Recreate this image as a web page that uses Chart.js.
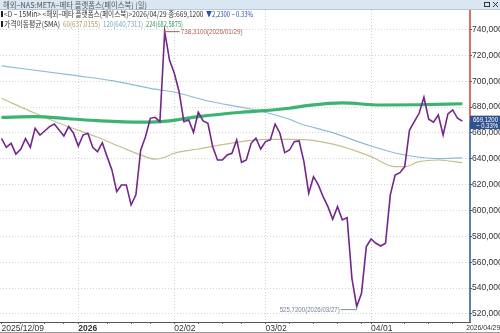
<!DOCTYPE html>
<html>
<head>
<meta charset="utf-8">
<script src="https://cdn.jsdelivr.net/npm/chart.js@4.4.1/dist/chart.umd.min.js"></script>
<style>
  html, body { margin: 0; padding: 0; background: #fff; overflow: hidden; }
  canvas { display: block; }
</style>
</head>
<body>
<canvas id="c" width="500" height="333"></canvas>
<script>
/* daily close, 2025/12/09 .. 2026/04/29 (97 trading days) */
const closes = [
  655.9, 648.9, 652.0, 643.7, 647.4, 655.6, 648.9, 663.6, 658.4, 661.5,
  664.9, 666.9, 662.3, 657.7, 664.9, 659.8, 649.9, 658.4, 659.8, 648.9,
  645.5, 652.5, 641.7, 631.4, 614.6, 619.8, 619.8, 604.3, 612.1, 646.8,
  657.1, 671.3, 672.1, 668.7, 738.31, 716.4, 706.1, 691.9, 668.7, 670.0,
  660.5, 676.0, 669.3, 667.5, 649.4, 639.1, 639.1, 643.0, 644.3, 654.6,
  637.3, 639.1, 652.0, 655.9, 647.6, 653.3, 654.6, 666.9, 659.8, 644.8,
  646.8, 653.3, 653.8, 637.8, 613.4, 626.2, 619.8, 610.7, 603.0, 593.3,
  603.0, 592.7, 594.5, 547.6, 525.72, 536.0, 572.1, 578.0, 574.7, 572.6,
  574.7, 612.1, 627.5, 629.3, 633.9, 662.3, 668.7, 675.2, 687.6, 670.6,
  668.3, 673.9, 658.4, 674.7, 677.8, 671.35, 669.12
];

/* moving averages (day index -> value) */
const ma60Idx  = [0, 7, 12, 20, 25, 29, 32, 34, 36, 41, 50, 55, 60, 64, 71, 77, 82, 84, 87, 91, 96];
const ma60Val  = [686.8, 675.2, 667.5, 656.7, 648.9, 643.0, 639.7, 641.2, 644.3, 647.6, 653.3,
                  655.1, 655.1, 654.6, 649.4, 641.7, 633.9, 633.9, 637.8, 639.1, 637.02];
const ma120Idx = [0, 16, 23, 31, 37, 43, 52, 60, 62, 69, 77, 83, 91, 96];
const ma120Val = [711.8, 704.1, 700.4, 694.5, 690.7, 684.7, 678.5, 670.6, 667.5, 660.2, 649.9,
                  643.7, 640.2, 640.73];
const ma224Idx = [0, 7, 14, 20, 29, 33, 37, 41, 50, 54, 60, 64, 71, 79, 87, 96];
const ma224Val = [672.1, 672.6, 671.0, 669.5, 668.3, 668.7, 670.4, 672.6, 676.0, 677.0, 679.1,
                  681.3, 683.2, 681.6, 681.8, 682.59];

/* x axis labels (day index) and minor weekly ticks */
const tickIdx    = [0, 16, 36, 55, 77, 96.8];
const tickLabels = ['2025/12/09', '2026', '02/02', '03/02', '04/01', '2026/04/29'];
const minorIdx   = [4, 9, 13, 22, 27, 31, 41, 46, 50, 60, 65, 70, 75, 84, 89, 94];
const yTicks     = [520, 540, 560, 580, 600, 620, 640, 660, 680, 700, 720, 740];

const hiIdx = 34, loIdx = 74;
const hiText = '738,3100(2026/01/29)';
const loText = '525,7200(2026/03/27)';

const title   = '해외−NAS:META−메타 플랫폼스(페이스북) (일)';
const info    = '<D − 15Min> <해외−메타 플랫폼스(페이스북)>2026/04/29 종:669,1200 ';
const change  = '▼2,2300 − 0.33%';
const smaName = '가격이동평균(SMA)';
const smaTags = ['60(637,0155)', '120(640,7311)', '224(682,5875)'];

const NARROW = "'Liberation Sans Narrow', 'Liberation Sans', sans-serif";
const KR = "'Noto Sans CJK KR', sans-serif";
const C_PRICE = '#74268c', C_224 = '#3cb371', C_120 = '#8cbcd2', C_60 = '#c4bf8e';
const LAST_TICK = tickIdx[tickIdx.length - 1];

const pts = (xs, ys) => xs.map((x, i) => ({ x, y: ys[i] }));
const fmt = v => v.toFixed(4).replace('.', ',');

// draw text squeezed into a given width
function fitText(ctx, txt, x, y, w, color, font) {
  ctx.save();
  ctx.font = font;
  ctx.fillStyle = color;
  ctx.textBaseline = 'middle';
  ctx.textAlign = 'left';
  const m = ctx.measureText(txt).width;
  const s = w ? w / m : 1;
  ctx.translate(x, y);
  ctx.scale(s, 1);
  ctx.fillText(txt, 0, 0);
  ctx.restore();
}

const deco = {
  id: 'deco',
  afterDatasetsDraw(ch) {
    const { ctx, scales: { x, y } } = ch;
    // high / low markers
    const hx = x.getPixelForValue(hiIdx), hy = y.getPixelForValue(closes[hiIdx]);
    ctx.save();
    ctx.strokeStyle = '#c0504d'; ctx.lineWidth = 1;
    ctx.beginPath(); ctx.moveTo(hx, hy); ctx.lineTo(hx + 15, hy); ctx.stroke();
    ctx.fillStyle = '#c0504d'; ctx.fillRect(hx - 1, hy - 1, 2, 2);
    fitText(ctx, hiText, hx + 16, hy, 62, '#b05a50', '8px ' + NARROW);
    const lx = x.getPixelForValue(loIdx), ly = y.getPixelForValue(closes[loIdx]) + 3;
    ctx.strokeStyle = '#7f8fa8';
    ctx.beginPath(); ctx.moveTo(lx, ly - 3); ctx.lineTo(lx, ly); ctx.lineTo(lx - 16, ly); ctx.stroke();
    fitText(ctx, loText, lx - 77, ly, 60, '#72819c', '8px ' + NARROW);
    ctx.restore();
  },
  afterDraw(ch) {
    const { ctx, chartArea: a, scales: { y } } = ch;
    ctx.save();
    // right axis line: red above last price, blue below
    const py = y.getPixelForValue(closes[closes.length - 1]);
    ctx.lineWidth = 1.5;
    ctx.strokeStyle = '#c8402e';
    ctx.beginPath(); ctx.moveTo(a.right, 9); ctx.lineTo(a.right, py); ctx.stroke();
    ctx.strokeStyle = '#2c5494';
    ctx.beginPath(); ctx.moveTo(a.right, py); ctx.lineTo(a.right, a.bottom); ctx.stroke();
    // last price box
    ctx.fillStyle = '#2f5190';
    ctx.fillRect(a.right, py - 5.5, 30, 13.5);
    fitText(ctx, '669,1200', a.right + 3, py - 1.5, 25, '#fff', '7px ' + NARROW);
    fitText(ctx, '− 0.33%', a.right + 6, py + 4.5, 22, '#fff', '7px ' + NARROW);

    // header bar
    ctx.fillStyle = '#dae6f2';
    ctx.fillRect(0, 0, 500, 9);
    ctx.fillStyle = '#b8c8d8';
    ctx.fillRect(0, 9, 500, 1);
    fitText(ctx, title, 3, 4.5, 144, '#555', '8px ' + KR);
    ctx.strokeStyle = '#333'; ctx.lineWidth = 1;
    ctx.strokeRect(484.5, 2.5, 5, 4);
    ctx.beginPath();
    ctx.moveTo(493, 2); ctx.lineTo(498, 7); ctx.moveTo(498, 2); ctx.lineTo(493, 7);
    ctx.stroke();

    // info lines
    ctx.fillStyle = '#222';
    ctx.fillRect(1, 11, 2, 6);
    ctx.fillRect(1, 21, 2, 6);
    fitText(ctx, info, 4, 14, 201, '#333', '8px ' + KR);
    fitText(ctx, change, 206, 14, 47, '#2a52a8', '8px ' + KR);
    fitText(ctx, smaName, 4, 24, 56, '#333', '8px ' + KR);
    fitText(ctx, smaTags[0], 63, 24, 37, '#a9a060', '8px ' + KR);
    fitText(ctx, smaTags[1], 103, 24, 40, '#70a8c4', '8px ' + KR);
    fitText(ctx, smaTags[2], 146, 24, 37, '#3a9a5a', '8px ' + KR);

    // bottom frame line
    ctx.fillStyle = '#9a9a9a';
    ctx.fillRect(0, 332, 500, 1);
    ctx.restore();
  }
};

new Chart(document.getElementById('c'), {
  type: 'line',
  data: {
    datasets: [
      { label: 'close', data: closes.map((v, i) => ({ x: i, y: v })), borderColor: C_PRICE,
        borderWidth: 1.6, pointRadius: 0, tension: 0 },
      { label: 'SMA224', data: pts(ma224Idx, ma224Val), borderColor: C_224, borderWidth: 3.2,
        pointRadius: 0, cubicInterpolationMode: 'monotone' },
      { label: 'SMA120', data: pts(ma120Idx, ma120Val), borderColor: C_120, borderWidth: 1.2,
        pointRadius: 0, cubicInterpolationMode: 'monotone' },
      { label: 'SMA60', data: pts(ma60Idx, ma60Val), borderColor: C_60, borderWidth: 1.2,
        pointRadius: 0, cubicInterpolationMode: 'monotone' }
    ]
  },
  options: {
    responsive: false,
    animation: false,
    devicePixelRatio: 1,
    layout: { padding: { top: 10, left: 0, right: 0, bottom: 0 } },
    plugins: { legend: { display: false }, tooltip: { enabled: false } },
    scales: {
      x: {
        type: 'linear',
        min: -0.3125,
        max: 97.6,
        afterBuildTicks: s => {
          s.ticks = tickIdx.concat(minorIdx).sort((a, b) => a - b).map(v => ({ value: v }));
        },
        afterFit: s => { s.height = 11; s.paddingLeft = 0; s.paddingRight = 0; },
        ticks: {
          autoSkip: false,
          maxRotation: 0,
          align: 'start',
          padding: 0,
          color: '#333',
          font: c => ({
            family: NARROW,
            size: c.tick && c.tick.value === LAST_TICK ? 6.8 : 8.5,
            weight: c.tick && c.tick.value === 16 ? 'bold' : 'normal'
          }),
          callback: v => { const k = tickIdx.indexOf(v); return k >= 0 ? tickLabels[k] : ''; }
        },
        grid: {
          color: c => (c.tick && [16, 36, 55, 77].includes(c.tick.value)) ? '#cfcfcf' : 'rgba(0,0,0,0)',
          tickColor: c => (c.tick && c.tick.value === LAST_TICK) ? 'rgba(0,0,0,0)' : '#666',
          tickLength: 2,
          tickBorderDash: [1, 0]
        },
        border: { display: true, color: '#555', width: 1, dash: [1, 2] }
      },
      y: {
        position: 'right',
        min: 513.81,
        max: 755.08,
        afterBuildTicks: s => { s.ticks = yTicks.map(v => ({ value: v })); },
        afterFit: s => { s.width = 30; s.paddingTop = 0; s.paddingBottom = 0; },
        ticks: {
          crossAlign: 'near',
          padding: 0,
          color: '#333',
          font: { family: NARROW, size: 8.5 },
          callback: v => fmt(v)
        },
        grid: { color: '#d6d6d6', tickColor: '#555', tickLength: 2, tickBorderDash: [1, 0] },
        border: { display: false, dash: [1, 2] }
      }
    }
  },
  plugins: [deco]
});
</script>
</body>
</html>
